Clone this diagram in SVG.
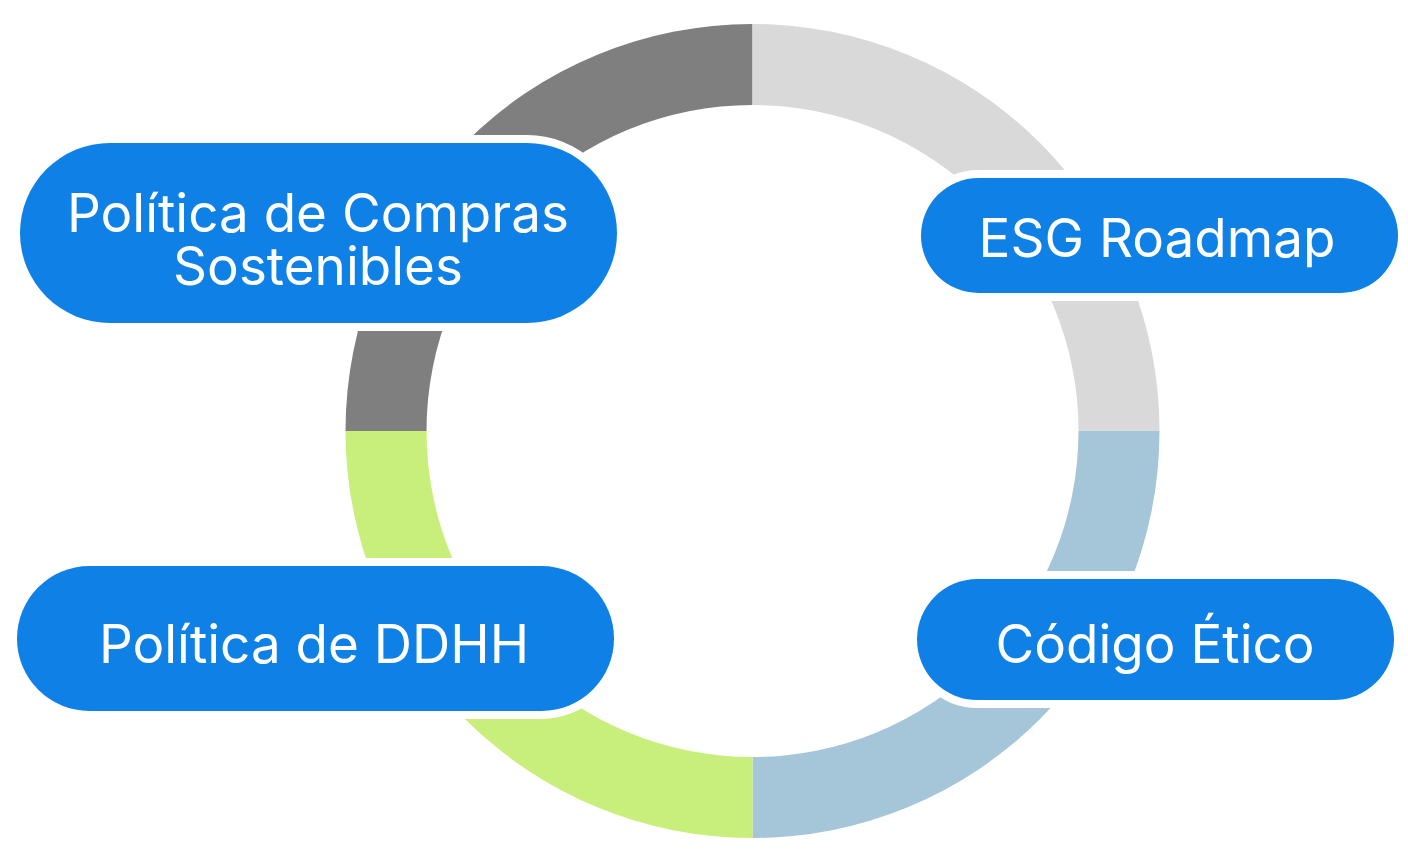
<svg xmlns="http://www.w3.org/2000/svg" width="1408" height="850" viewBox="0 0 1408 850">
  <style>
    .pill { fill: #0e80e6; stroke: #ffffff; stroke-width: 16; paint-order: stroke; }
    .lbl { font-family: Inter, "Noto Sans", "Liberation Sans", sans-serif; font-size: 53px; fill: #ffffff; text-anchor: middle; }
  </style>
  <rect width="1408" height="850" fill="#ffffff"/>
  <g id="ring">
    <path d="M345.5,431 A407,407 0 0 1 752.5,24 L752.5,105 A326,326 0 0 0 426.5,431 Z" fill="#7f7f7f"/>
    <path d="M752.5,24 A407,407 0 0 1 1159.5,431 L1078.5,431 A326,326 0 0 0 752.5,105 Z" fill="#d9d9d9"/>
    <path d="M1159.5,431 A407,407 0 0 1 752.5,838 L752.5,757 A326,326 0 0 0 1078.5,431 Z" fill="#a5c5d9"/>
    <path d="M752.5,838 A407,407 0 0 1 345.5,431 L426.5,431 A326,326 0 0 0 752.5,757 Z" fill="#c8ef7b"/>
  </g>
  <g id="connectors"></g>
  <g id="node-compras">
    <rect class="pill" x="20" y="143" width="597" height="180" rx="90" ry="90"/>
    <text class="lbl" x="318" y="232">Política de Compras</text>
    <text class="lbl" x="318" y="284.5">Sostenibles</text>
  </g>
  <g id="node-esg">
    <rect class="pill" x="921" y="178" width="477" height="115" rx="57.5" ry="57.5"/>
    <text class="lbl" x="1157" y="256.5">ESG Roadmap</text>
  </g>
  <g id="node-codigo">
    <rect class="pill" x="917" y="579" width="477" height="121" rx="60.5" ry="60.5"/>
    <text class="lbl" x="1155" y="662.5">Código Ético</text>
  </g>
  <g id="node-ddhh">
    <rect class="pill" x="17" y="566" width="597" height="145" rx="72.5" ry="72.5"/>
    <text class="lbl" x="314" y="663">Política de DDHH</text>
  </g>
</svg>
